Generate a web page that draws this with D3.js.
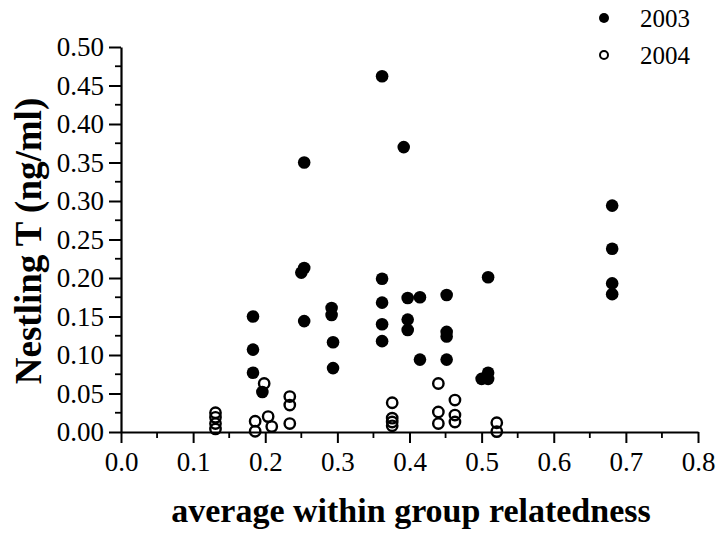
<!DOCTYPE html>
<html>
<head>
<meta charset="utf-8">
<script src="https://cdn.jsdelivr.net/npm/d3@7/dist/d3.min.js"></script>
<style>
  html, body { margin: 0; padding: 0; background: #fff; }
  svg { display: block; }
  svg text { font-family: "Liberation Serif", "Times New Roman", serif !important; fill: #000; }
</style>
</head>
<body>
<script>
// 2003 (filled) data: relatedness, testosterone
const x2003 = [0.183,0.183,0.183,0.196,0.254,0.250,0.254,0.254,0.292,0.292,0.294,0.294,
  0.362,0.362,0.362,0.362,0.362,0.392,0.3975,0.4145,0.3975,0.3975,0.4145,
  0.4515,0.4515,0.4515,0.4515,0.500,0.509,0.509,0.509,0.681,0.681,0.681,0.681];
const y2003 = [0.150,0.107,0.077,0.052,0.350,0.207,0.213,0.144,0.161,0.152,0.1165,0.083,
  0.462,0.199,0.168,0.140,0.118,0.370,0.174,0.175,0.146,0.1325,0.094,
  0.178,0.130,0.124,0.094,0.069,0.077,0.069,0.201,0.294,0.238,0.193,0.179];
// 2004 (open) data
const x2004 = [0.131,0.131,0.131,0.131,0.186,0.186,0.1985,0.204,0.209,0.234,0.234,0.234,
  0.376,0.376,0.376,0.376,0.440,0.440,0.440,0.463,0.463,0.463,0.521,0.521];
const y2004 = [0.025,0.019,0.011,0.004,0.014,0.001,0.063,0.020,0.007,0.046,0.035,0.011,
  0.038,0.018,0.013,0.008,0.063,0.026,0.011,0.0415,0.022,0.013,0.012,0.0005];

const xTicks = [0.0,0.1,0.2,0.3,0.4,0.5,0.6,0.7,0.8];
const yTicks = [0.00,0.05,0.10,0.15,0.20,0.25,0.30,0.35,0.40,0.45,0.50];
const seriesNames = ["2003","2004"];
const xTitle = "average within group relatedness";
const yTitle = "Nestling T (ng/ml)";

const W = 719, H = 533;
const svg = d3.select("body").append("svg").attr("width", W).attr("height", H);

const x = d3.scaleLinear().domain([0, 0.8]).range([121, 698]);
const y = d3.scaleLinear().domain([0, 0.5]).range([432, 47]);

const xMinor = d3.range(0.05, 0.8, 0.1);
const yMinor = d3.range(0.025, 0.5, 0.05);

// X axis
const xAxis = svg.append("g").attr("transform", `translate(0,${y(0)})`)
  .call(d3.axisBottom(x).tickValues(xTicks).tickFormat(d3.format(".1f")).tickSize(11).tickSizeOuter(0));
xAxis.attr("font-family", null).attr("font-size", null);
xAxis.selectAll(".domain").attr("stroke-width", 2.2);
xAxis.selectAll(".tick line").attr("stroke-width", 2);
xAxis.selectAll(".tick text").style("font-size", "27px").attr("y", 20);
svg.append("g").selectAll("line").data(xMinor).join("line")
  .attr("x1", d => x(d)).attr("x2", d => x(d))
  .attr("y1", y(0)).attr("y2", y(0) + 6)
  .attr("stroke", "#000").attr("stroke-width", 1.8);

// Y axis
const yAxis = svg.append("g").attr("transform", `translate(${x(0)},0)`)
  .call(d3.axisLeft(y).tickValues(yTicks).tickFormat(d3.format(".2f")).tickSize(12).tickSizeOuter(0));
yAxis.attr("font-family", null).attr("font-size", null);
yAxis.selectAll(".domain").attr("stroke-width", 2.2);
yAxis.selectAll(".tick line").attr("stroke-width", 2);
yAxis.selectAll(".tick text").style("font-size", "27px").attr("x", -17);
svg.append("g").selectAll("line").data(yMinor).join("line")
  .attr("x1", x(0)).attr("x2", x(0) - 6)
  .attr("y1", d => y(d)).attr("y2", d => y(d))
  .attr("stroke", "#000").attr("stroke-width", 1.8);

// Points
svg.append("g").selectAll("circle").data(d3.range(x2003.length)).join("circle")
  .attr("cx", i => x(x2003[i])).attr("cy", i => y(y2003[i]))
  .attr("r", 6.3).attr("fill", "#000");
svg.append("g").selectAll("circle").data(d3.range(x2004.length)).join("circle")
  .attr("cx", i => x(x2004[i])).attr("cy", i => y(y2004[i]))
  .attr("r", 5.2).attr("fill", "none").attr("stroke", "#000").attr("stroke-width", 2.4);

// Legend
const leg = svg.append("g");
leg.append("circle").attr("cx", 604).attr("cy", 18).attr("r", 5).attr("fill", "#000");
leg.append("circle").attr("cx", 604).attr("cy", 55).attr("r", 4).attr("fill", "none")
  .attr("stroke", "#000").attr("stroke-width", 2);
leg.selectAll("text").data(seriesNames).join("text")
  .attr("x", 640).attr("y", (d, i) => 27 + i * 37)
  .style("font-size", "25px").text(d => d);

// Titles
svg.append("text").attr("x", 411).attr("y", 522).attr("text-anchor", "middle")
  .style("font-size", "34px").attr("font-weight", "bold").text(xTitle);
svg.append("text").attr("transform", "translate(41,241) rotate(-90)")
  .attr("text-anchor", "middle").style("font-size", "37px").attr("font-weight", "bold").text(yTitle);
</script>
</body>
</html>
